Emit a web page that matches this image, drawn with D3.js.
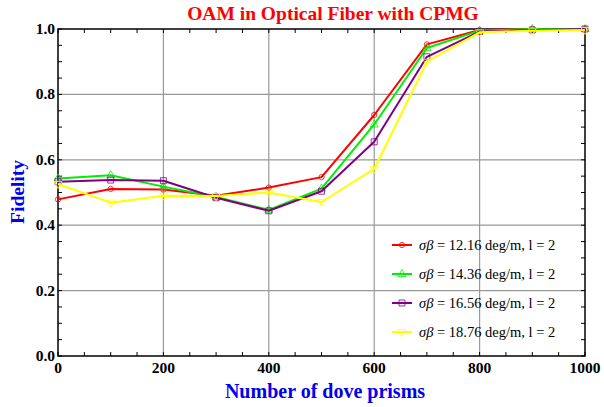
<!DOCTYPE html>
<html>
<head>
<meta charset="utf-8">
<script src="https://cdn.jsdelivr.net/npm/d3@7"></script>
<style>
  body { margin: 0; background: #fff; }
  svg { display: block; font-family: "Liberation Serif", "Times New Roman", serif; }
</style>
</head>
<body>
<svg class="chart"></svg>
<script>
// Total dimensions
var w = 604,
    h = 407;

// Data
var prisms = [0, 100, 200, 300, 400, 500, 600, 700, 800, 900, 1000];
var sigmaLabels = ["12.16", "14.36", "16.56", "18.76"];
var fid1216 = [0.479, 0.511, 0.509, 0.490, 0.515, 0.547, 0.737, 0.953, 0.997, 1.0, 1.0];
var fid1436 = [0.543, 0.553, 0.518, 0.486, 0.447, 0.512, 0.708, 0.942, 0.995, 1.0, 1.0];
var fid1656 = [0.533, 0.538, 0.536, 0.484, 0.444, 0.504, 0.655, 0.915, 0.992, 0.997, 1.0];
var fid1876 = [0.526, 0.469, 0.490, 0.489, 0.500, 0.471, 0.572, 0.900, 0.990, 0.995, 0.997];
var xTicks = [0, 200, 400, 600, 800, 1000];
var yTicks = [0.0, 0.2, 0.4, 0.6, 0.8, 1.0];

var colors = ["#ff0000", "#00ee00", "#800080", "#ffff00"];
var markers = ["circle", "up", "square", "down"];

var series = [fid1216, fid1436, fid1656, fid1876].map(function(vals, i) {
    return {
        label: sigmaLabels[i],
        color: colors[i],
        marker: markers[i],
        values: vals.map(function(v, j) { return { x: prisms[j], y: v }; })
    };
});

var svg = d3.select(".chart")
    .attr("width", w)
    .attr("height", h);

// Margins
var margin = { top: 29, right: 19, bottom: 51, left: 58 },
    width = w - margin.left - margin.right,
    height = h - margin.top - margin.bottom,
    g = svg.append("g").attr("transform", "translate(" + margin.left + "," + margin.top + ")");

var xScale = d3.scaleLinear().domain([0, 1000]).range([0, width]);
var yScale = d3.scaleLinear().domain([0, 1]).range([height, 0]);

// Grid
g.append("g")
    .selectAll("line")
    .data(xTicks.slice(1, -1))
    .enter().append("line")
    .attr("x1", function(d) { return xScale(d); })
    .attr("x2", function(d) { return xScale(d); })
    .attr("y1", 0)
    .attr("y2", height)
    .attr("stroke", "#999")
    .attr("stroke-width", 1.2);

g.append("g")
    .selectAll("line")
    .data(yTicks.slice(1, -1))
    .enter().append("line")
    .attr("y1", function(d) { return yScale(d); })
    .attr("y2", function(d) { return yScale(d); })
    .attr("x1", 0)
    .attr("x2", width)
    .attr("stroke", "#999")
    .attr("stroke-width", 1.2);

// Minor / major ticks, inward, on all four sides
var xMinor = d3.range(0, 1001, 50);
var yMinor = d3.range(0, 1.0001, 0.05);

function tickLines(sel, vals, horiz, pos, dir) {
    sel.selectAll(null)
        .data(vals)
        .enter().append("line")
        .attr("x1", function(d) { return horiz ? xScale(d) : pos; })
        .attr("x2", function(d) { return horiz ? xScale(d) : pos + dir * 4; })
        .attr("y1", function(d) { return horiz ? pos : yScale(d); })
        .attr("y2", function(d) { return horiz ? pos + dir * 4 : yScale(d); })
        .attr("stroke", "#000")
        .attr("stroke-width", 1);
}
var ticks = g.append("g");
tickLines(ticks, xMinor, true, height, -1);
tickLines(ticks, xMinor, true, 0, 1);
tickLines(ticks, yMinor, false, 0, 1);
tickLines(ticks, yMinor, false, width, -1);

// Frame
g.append("rect")
    .attr("width", width)
    .attr("height", height)
    .attr("fill", "none")
    .attr("stroke", "#000")
    .attr("stroke-width", 1.5);

// Tick labels
g.append("g")
    .selectAll("text")
    .data(xTicks)
    .enter().append("text")
    .attr("x", function(d) { return xScale(d); })
    .attr("y", height + 17)
    .attr("text-anchor", "middle")
    .attr("font-size", "15.5px")
    .attr("font-weight", "bold")
    .text(function(d) { return d; });

g.append("g")
    .selectAll("text")
    .data(yTicks)
    .enter().append("text")
    .attr("x", -3)
    .attr("y", function(d) { return yScale(d) + 5; })
    .attr("text-anchor", "end")
    .attr("font-size", "15.5px")
    .attr("font-weight", "bold")
    .text(function(d) { return d.toFixed(1); });

// Lines
var line = d3.line()
    .x(function(d) { return xScale(d.x); })
    .y(function(d) { return yScale(d.y); });

var markerPath = {
    circle: d3.symbol().type(d3.symbolCircle).size(22)(),
    up: "M0,-4.5L4,2.5L-4,2.5Z",
    square: "M-3,-3H3V3H-3Z",
    down: "M0,4.5L4,-2.5L-4,-2.5Z"
};

series.forEach(function(s) {
    var gs = g.append("g");
    gs.append("path")
        .datum(s.values)
        .attr("fill", "none")
        .attr("stroke", s.color)
        .attr("stroke-width", 2)
        .attr("stroke-linejoin", "round")
        .attr("d", line);
    gs.selectAll("path.mk")
        .data(s.values)
        .enter().append("path")
        .attr("class", "mk")
        .attr("d", markerPath[s.marker])
        .attr("transform", function(d) { return "translate(" + xScale(d.x) + "," + yScale(d.y) + ")"; })
        .attr("fill", "none")
        .attr("stroke", s.color)
        .attr("stroke-width", 0.8);
});

// Legend
var legend = svg.append("g").attr("transform", "translate(392,245)");
series.forEach(function(s, i) {
    var row = legend.append("g").attr("transform", "translate(0," + (i * 29) + ")");
    row.append("line")
        .attr("x1", 0).attr("x2", 20)
        .attr("stroke", s.color)
        .attr("stroke-width", 2);
    row.append("path")
        .attr("d", markerPath[s.marker])
        .attr("transform", "translate(10,0)")
        .attr("fill", "none")
        .attr("stroke", s.color)
        .attr("stroke-width", 0.8);
    var t = row.append("text")
        .attr("x", 27)
        .attr("y", 5)
        .attr("font-size", "14.5px");
    t.append("tspan").attr("font-style", "italic").text("σβ");
    t.append("tspan").text(" = " + s.label + " deg/m, l = 2");
});

// Title and axis labels
svg.append("text")
    .attr("x", 333)
    .attr("y", 20)
    .attr("text-anchor", "middle")
    .attr("font-size", "19.5px")
    .attr("font-weight", "bold")
    .attr("fill", "#ff0000")
    .text("OAM in Optical Fiber with CPMG");

svg.append("text")
    .attr("x", 325)
    .attr("y", 398)
    .attr("text-anchor", "middle")
    .attr("font-size", "20px")
    .attr("font-weight", "bold")
    .attr("fill", "#0000ee")
    .text("Number of dove prisms");

svg.append("text")
    .attr("transform", "translate(24,192) rotate(-90)")
    .attr("text-anchor", "middle")
    .attr("font-size", "19.5px")
    .attr("font-weight", "bold")
    .attr("fill", "#0000ee")
    .text("Fidelity");
</script>
</body>
</html>
